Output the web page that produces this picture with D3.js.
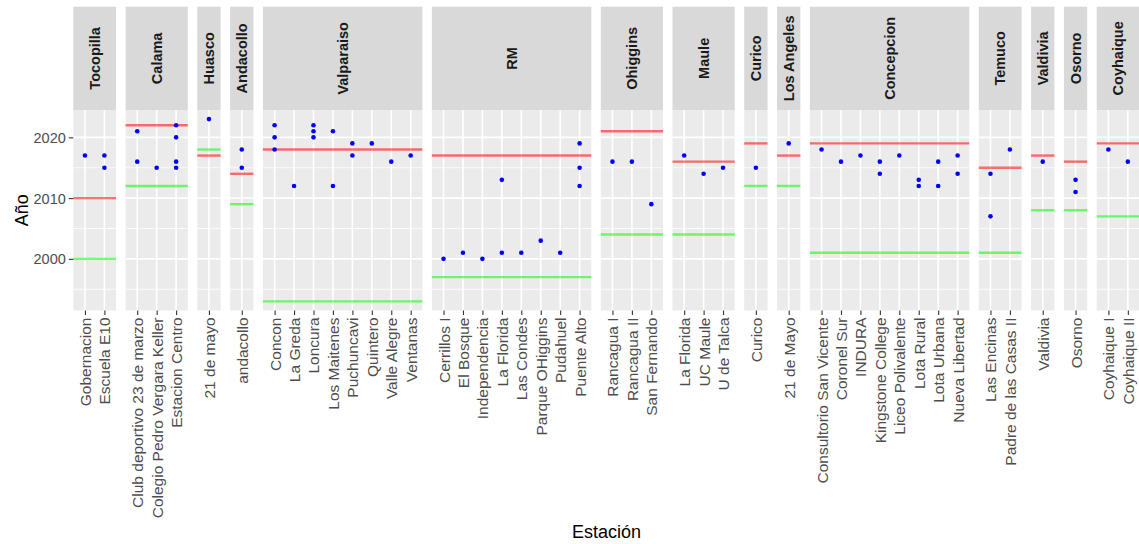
<!DOCTYPE html>
<html>
<head>
<meta charset="utf-8">
<script src="https://cdn.jsdelivr.net/npm/d3@7"></script>
<style>
  html, body { margin: 0; padding: 0; background: #ffffff; }
  svg { display: block; font-family: "Liberation Sans", Arial, sans-serif; }
</style>
</head>
<body>
<svg id="chart" width="1139" height="544"></svg>
<script>
// Regions (facets), left to right
const regions = ["Tocopilla", "Calama", "Huasco", "Andacollo", "Valparaiso", "RM",
  "Ohiggins", "Maule", "Curico", "Los Angeles", "Concepcion", "Temuco",
  "Valdivia", "Osorno", "Coyhaique"];

// Monitoring stations in each region
const stationsByRegion = [
  ["Gobernacion", "Escuela E10"],
  ["Club deportivo 23 de marzo", "Colegio Pedro Vergara Keller", "Estacion Centro"],
  ["21 de mayo"],
  ["andacollo"],
  ["Concon", "La Greda", "Loncura", "Los Maitenes", "Puchuncavi", "Quintero", "Valle Alegre", "Ventanas"],
  ["Cerrillos I", "El Bosque", "Independencia", "La Florida", "Las Condes", "Parque OHiggins", "Pudahuel", "Puente Alto"],
  ["Rancagua I", "Rancagua II", "San Fernando"],
  ["La Florida", "UC Maule", "U de Talca"],
  ["Curico"],
  ["21 de Mayo"],
  ["Consultorio San Vicente", "Coronel Sur", "INDURA", "Kingstone College", "Liceo Polivalente", "Lota Rural", "Lota Urbana", "Nueva Libertad"],
  ["Las Encinas", "Padre de las Casas II"],
  ["Valdivia"],
  ["Osorno"],
  ["Coyhaique I", "Coyhaique II"]
];

// Years recorded for each station (same nesting as stationsByRegion)
const yearsByStation = [
  [[2017], [2017, 2015]],
  [[2021, 2016], [2015], [2022, 2020, 2016, 2015]],
  [[2023]],
  [[2018, 2015]],
  [[2022, 2020, 2018], [2012], [2022, 2021, 2020], [2021, 2012], [2019, 2017], [2019], [2016], [2017]],
  [[2000], [2001], [2000], [2013, 2001], [2001], [2003], [2001], [2019, 2015, 2012]],
  [[2016], [2016], [2009]],
  [[2017], [2014], [2015]],
  [[2015]],
  [[2019]],
  [[2018], [2016], [2017], [2016, 2014], [2017], [2013, 2012], [2016, 2012], [2017, 2014]],
  [[2014, 2007], [2018]],
  [[2016]],
  [[2013, 2011]],
  [[2018], [2016]]
];

// Reference years per region
const redYear   = [2010, 2022, 2017, 2014, 2018, 2017, 2021, 2016, 2019, 2017, 2019, 2015, 2017, 2016, 2019];
const greenYear = [2000, 2012, 2018, 2009, 1993, 1997, 2004, 2004, 2012, 2012, 2001, 2001, 2008, 2008, 2007];

const yMajor = [2000, 2010, 2020];
const yMinor = [1995, 2005, 2015];

// ---- layout ----
const svg = d3.select("#chart");
const plotLeft = 73.3, plotRight = 1139.5;
const stripTop = 6.7, panelTop = 110, panelBottom = 310.5;
const gap = 9.5;
const pad = 0.6;               // discrete-scale expansion on each side
const tickLen = 4.5;

const allYears = [].concat(...yearsByStation.flat(), redYear, greenYear);
const yMin = d3.min(allYears), yMax = d3.max(allYears);
const ySpan = yMax - yMin;
const y = d3.scaleLinear()
  .domain([yMin - 0.05 * ySpan, yMax + 0.05 * ySpan])
  .range([panelBottom, panelTop]);

const unitsPer = stationsByRegion.map(s => s.length - 1 + 2 * pad);
const totalUnits = d3.sum(unitsPer);
const unit = (plotRight - plotLeft - gap * (regions.length - 1)) / totalUnits;

let cursor = plotLeft;
const panels = regions.map((r, i) => {
  const w = unitsPer[i] * unit;
  const p = { region: r, i, x0: cursor, w };
  cursor += w + gap;
  return p;
});

const textCol = "#4d4d4d";

panels.forEach(p => {
  const stations = stationsByRegion[p.i];
  const x = d3.scalePoint().domain(d3.range(stations.length))
    .range([p.x0, p.x0 + p.w]).padding(pad);

  const g = svg.append("g");

  // strip
  g.append("rect").attr("x", p.x0).attr("y", stripTop)
    .attr("width", p.w).attr("height", panelTop - stripTop).attr("fill", "#d9d9d9");
  g.append("text")
    .attr("transform", `translate(${p.x0 + p.w / 2},${(stripTop + panelTop) / 2}) rotate(-90)`)
    .attr("text-anchor", "middle").attr("dominant-baseline", "central")
    .attr("font-size", 14.5).attr("font-weight", "bold").attr("fill", "#1a1a1a")
    .text(p.region);

  // panel background
  g.append("rect").attr("x", p.x0).attr("y", panelTop)
    .attr("width", p.w).attr("height", panelBottom - panelTop).attr("fill", "#ebebeb");

  // grid
  g.selectAll(".ymin").data(yMinor).enter().append("line")
    .attr("x1", p.x0).attr("x2", p.x0 + p.w)
    .attr("y1", d => y(d)).attr("y2", d => y(d))
    .attr("stroke", "#ffffff").attr("stroke-width", 0.8);
  g.selectAll(".ymaj").data(yMajor).enter().append("line")
    .attr("x1", p.x0).attr("x2", p.x0 + p.w)
    .attr("y1", d => y(d)).attr("y2", d => y(d))
    .attr("stroke", "#ffffff").attr("stroke-width", 1.6);
  g.selectAll(".xmaj").data(d3.range(stations.length)).enter().append("line")
    .attr("x1", d => x(d)).attr("x2", d => x(d))
    .attr("y1", panelTop).attr("y2", panelBottom)
    .attr("stroke", "#ffffff").attr("stroke-width", 1.6);

  // reference lines
  [[greenYear[p.i], "#00ff00"], [redYear[p.i], "#ff0000"]].forEach(([v, c]) => {
    g.append("line")
      .attr("x1", p.x0).attr("x2", p.x0 + p.w)
      .attr("y1", y(v)).attr("y2", y(v))
      .attr("stroke", c).attr("stroke-opacity", 0.55).attr("stroke-width", 2.4);
  });

  // points
  const pts = [];
  yearsByStation[p.i].forEach((ys, si) => ys.forEach(v => pts.push({ si, v })));
  g.selectAll(".pt").data(pts).enter().append("circle")
    .attr("cx", d => x(d.si)).attr("cy", d => y(d.v)).attr("r", 2.3)
    .attr("fill", "#0000ff");

  // x axis
  const ax = g.append("g").attr("transform", `translate(0,${panelBottom})`)
    .call(d3.axisBottom(x).tickSize(tickLen).tickSizeOuter(0).tickFormat(d => stations[d]));
  ax.select(".domain").remove();
  ax.selectAll(".tick line").attr("stroke", "#333333").attr("stroke-width", 1.1);
  ax.selectAll(".tick text")
    .attr("transform", `translate(0,${tickLen + 2.5}) rotate(-90)`)
    .attr("x", 0).attr("y", 0).attr("dy", null)
    .attr("text-anchor", "end").attr("dominant-baseline", "central")
    .attr("font-size", 15.5).attr("font-family", "Liberation Sans, Arial, sans-serif")
    .attr("fill", textCol);
});

// y axis
const ay = svg.append("g").attr("transform", `translate(${plotLeft},0)`)
  .call(d3.axisLeft(y).tickValues(yMajor).tickSize(tickLen).tickSizeOuter(0).tickFormat(d3.format("d")));
ay.select(".domain").remove();
ay.selectAll(".tick line").attr("stroke", "#333333").attr("stroke-width", 1.1);
ay.selectAll(".tick text")
  .attr("x", -(tickLen + 3)).attr("dy", null).attr("dominant-baseline", "central")
  .attr("font-size", 14.5).attr("font-family", "Liberation Sans, Arial, sans-serif")
  .attr("fill", textCol);

// axis titles
svg.append("text")
  .attr("transform", `translate(22,${(panelTop + panelBottom) / 2}) rotate(-90)`)
  .attr("text-anchor", "middle").attr("dominant-baseline", "central")
  .attr("font-size", 18).attr("fill", "#000000").text("Año");
svg.append("text")
  .attr("x", (plotLeft + plotRight) / 2).attr("y", 538)
  .attr("text-anchor", "middle")
  .attr("font-size", 18).attr("fill", "#000000").text("Estación");
</script>
</body>
</html>
